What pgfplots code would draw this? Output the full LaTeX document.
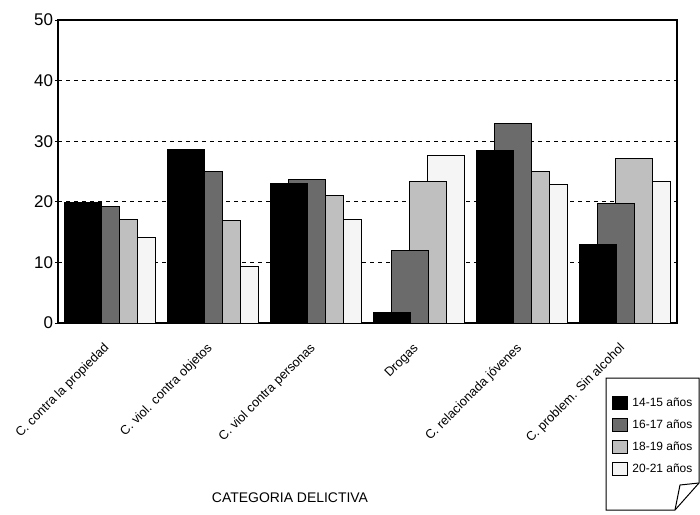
\documentclass[border=0pt]{standalone}
\usepackage{pgfplots}
\pgfplotsset{compat=1.18}
\usepackage{fontspec}
\setmainfont{Liberation Sans}
\pgfplotsset{mylegend/.style={legend image code/.code={\draw[##1,line width=0.8bp] (0bp,-6.5bp) rectangle (15bp,6.5bp);}}}
\pgfplotstableread{
x black dark light white
0 19.9 19.2 17.1 14.1
1 28.6 25.0 16.9 9.4
2 23.1 23.6 21.1 17.0
3 1.7 11.9 23.3 27.7
4 28.5 33.0 25.0 22.9
5 13.0 19.8 27.1 23.3
}\datatable
\begin{document}
\begin{tikzpicture}
\useasboundingbox (-58bp,-192bp) rectangle (642bp,323bp);
\begin{axis}[
  at={(0bp,0bp)}, anchor=south west,
  scale only axis, width=619bp, height=303bp,
  xmin=-0.5, xmax=5.5, ymin=0, ymax=50,
  ytick={0,10,20,30,40,50},
  xtick={0,1,2,3,4,5},
  xticklabels={C. contra la propiedad, C. viol. contra objetos, C. viol contra personas, Drogas, C. relacionada jóvenes, C. problem. Sin alcohol},
  xtick style={draw=none},
  ytick style={line width=1bp, black},
  tick align=outside, major tick length=3bp,
  ytick pos=left,
  /pgf/number format/assume math mode=true,
  yticklabel style={font=\fontsize{17}{17}\selectfont, xshift=1.5bp},
  xticklabel style={font=\fontsize{12.8}{14}\selectfont, yshift=-18bp, xshift=0bp, rotate=45, anchor=east},
  ymajorgrids,
  grid style={black, line width=1.1bp, dash pattern=on 4bp off 4bp},
  axis line style={line width=1.5bp},
  xlabel={CATEGORIA DELICTIVA},
  xlabel style={at={(axis description cs:0.3748,-0.5776)}, anchor=center, font=\fontsize{14}{15}\selectfont},
  legend style={at={(axis description cs:0.895,-0.2409)}, anchor=north west, draw=none, fill=none, font=\fontsize{12}{14}\selectfont, row sep=8bp, column sep=2.5bp, inner sep=0pt},
  legend cell align=left,
  reverse legend,
]
\addplot[ybar, mylegend, bar width=0.3585, bar shift=0.262, fill=white!96!black, draw=black, line width=1bp] table[x=x,y=white] {\datatable};
\addlegendentry{20-21 años}
\addplot[ybar, mylegend, bar width=0.3585, bar shift=0.087, fill=black!25, draw=black, line width=1bp] table[x=x,y=light] {\datatable};
\addlegendentry{18-19 años}
\addplot[ybar, mylegend, bar width=0.3585, bar shift=-0.087, fill=black!58, draw=black, line width=1bp] table[x=x,y=dark] {\datatable};
\addlegendentry{16-17 años}
\addplot[ybar, mylegend, bar width=0.3585, bar shift=-0.262, fill=black, draw=black, line width=1bp] table[x=x,y=black] {\datatable};
\addlegendentry{14-15 años}
\end{axis}
\draw[line width=1bp] (548bp,-55bp) -- (641bp,-55bp) -- (641bp,-160bp) -- (617bp,-187bp) -- (548bp,-187bp) -- cycle;
\draw[line width=1bp] (617bp,-187bp) -- (622bp,-162bp) -- (641bp,-160bp);
\end{tikzpicture}
\end{document}
